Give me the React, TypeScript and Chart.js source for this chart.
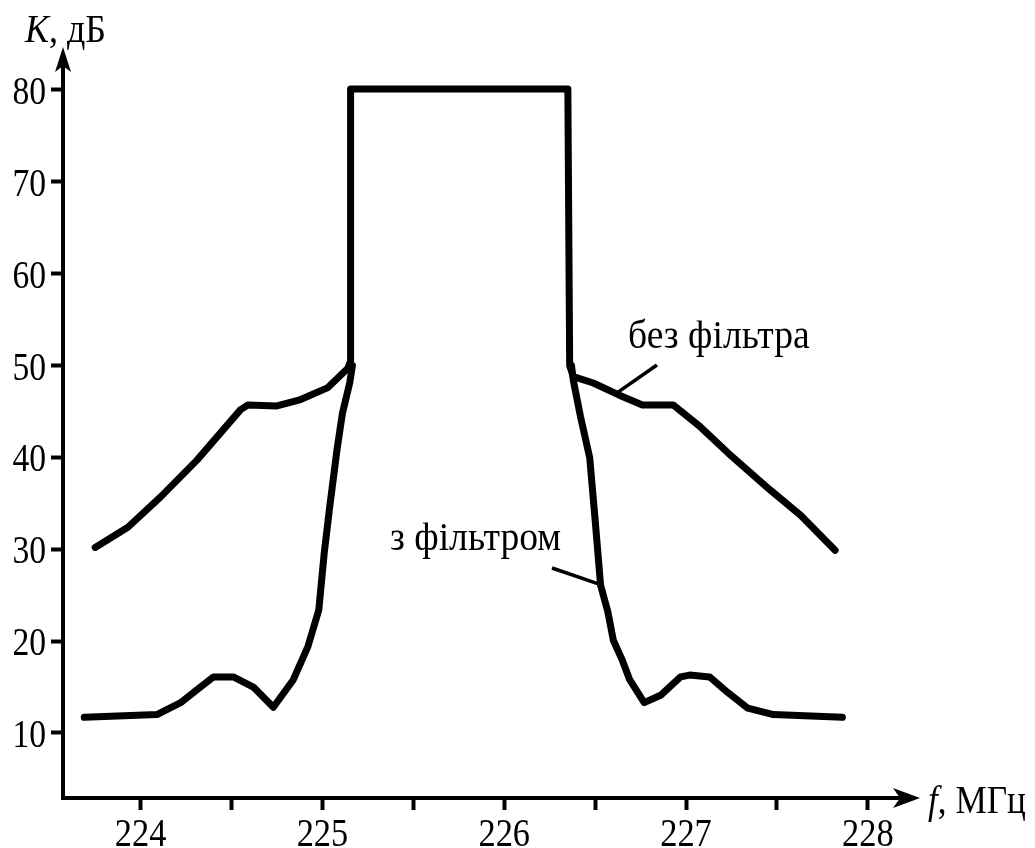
import React, { useEffect, useRef } from 'react';
import { Chart, registerables } from 'chart.js';

Chart.register(...registerables);

// ---- data ----
const freqUpper = [223.75, 223.93, 224.11, 224.31, 224.55, 224.59, 224.75, 224.88, 225.03, 225.14, 225.155, 225.155, 226.35, 226.36, 226.38, 226.49, 226.63, 226.76, 226.93, 227.08, 227.23, 227.46, 227.63, 227.82];
const kUpper = [30.2, 32.4, 35.7, 39.7, 45.2, 45.7, 45.6, 46.3, 47.6, 49.7, 50.5, 80.1, 80.1, 50.0, 48.8, 48.1, 46.8, 45.7, 45.7, 43.3, 40.5, 36.5, 33.7, 29.9];

const freqLowerLeft = [223.69, 224.09, 224.22, 224.31, 224.40, 224.51, 224.62, 224.73, 224.84, 224.92, 224.98, 225.01, 225.04, 225.08, 225.11, 225.15, 225.165];
const kLowerLeft = [11.7, 12.0, 13.3, 14.7, 16.1, 16.1, 15.0, 12.8, 15.8, 19.4, 23.4, 29.6, 34.6, 40.8, 44.8, 48.1, 50.0];

const freqLowerRight = [226.37, 226.38, 226.42, 226.47, 226.50, 226.53, 226.57, 226.60, 226.65, 226.69, 226.77, 226.86, 226.97, 227.02, 227.13, 227.23, 227.34, 227.48, 227.86];
const kLowerRight = [50.0, 48.4, 44.4, 40.0, 33.2, 26.1, 23.2, 20.1, 17.9, 15.8, 13.3, 14.1, 16.1, 16.3, 16.1, 14.4, 12.7, 12.0, 11.7];

const xTickValues = [224, 224.5, 225, 225.5, 226, 226.5, 227, 227.5, 228];
const yTickValues = [10, 20, 30, 40, 50, 60, 70, 80];

const yTitleItalic = 'K';
const yTitleRest = ', дБ';
const xTitleItalic = 'f';
const xTitleRest = ', МГц';
const labelNoFilter = 'без фільтра';
const labelWithFilter = 'з фільтром';

const SERIF = "'Liberation Serif', 'DejaVu Serif', serif";

const toPoints = (xs: number[], ys: number[]) => xs.map((x, i) => ({ x, y: ys[i] }));

// draws text horizontally condensed (the reference's lettering is slightly narrow)
function drawText(ctx: any, text: string, x: number, y: number, size: number, align: string, sx: number, italic = false) {
  ctx.save();
  ctx.font = `${italic ? 'italic ' : ''}${size}px ${SERIF}`;
  ctx.textAlign = align;
  ctx.textBaseline = 'alphabetic';
  ctx.translate(x, y);
  ctx.scale(sx, 1);
  ctx.fillText(text, 0, 0);
  const w = ctx.measureText(text).width * sx;
  ctx.restore();
  return w;
}

const decorPlugin = {
  id: 'decor',
  afterDraw(chart: any) {
    const { ctx, chartArea } = chart;
    const { left, right, top, bottom } = chartArea;
    const xs = chart.scales.x;
    const ys = chart.scales.y;
    ctx.save();
    ctx.strokeStyle = '#000';
    ctx.fillStyle = '#000';
    ctx.lineWidth = 4;
    ctx.lineCap = 'butt';
    // y axis
    ctx.beginPath();
    ctx.moveTo(left, bottom + 2);
    ctx.lineTo(left, top + 14);
    ctx.stroke();
    ctx.beginPath();
    ctx.moveTo(left, top);
    ctx.lineTo(left + 8, top + 25);
    ctx.lineTo(left, top + 19);
    ctx.lineTo(left - 8, top + 25);
    ctx.closePath();
    ctx.fill();
    // x axis
    ctx.beginPath();
    ctx.moveTo(left - 2, bottom);
    ctx.lineTo(right - 14, bottom);
    ctx.stroke();
    ctx.beginPath();
    ctx.moveTo(right, bottom);
    ctx.lineTo(right - 27, bottom - 10);
    ctx.lineTo(right - 20, bottom);
    ctx.lineTo(right - 27, bottom + 10);
    ctx.closePath();
    ctx.fill();

    // tick labels
    yTickValues.forEach((v) => {
      drawText(ctx, String(v), 46, ys.getPixelForValue(v) + 14, 40, 'right', 0.84);
    });
    xTickValues.forEach((v) => {
      if (Number.isInteger(v)) drawText(ctx, String(v), xs.getPixelForValue(v), 846, 40, 'center', 0.86);
    });

    // axis titles
    let w = drawText(ctx, yTitleItalic, 25, 42, 40, 'left', 0.9, true);
    drawText(ctx, yTitleRest, 25 + w, 42, 40, 'left', 0.9);
    w = drawText(ctx, xTitleItalic, 928, 813, 40, 'left', 0.88, true);
    drawText(ctx, xTitleRest, 928 + w, 813, 40, 'left', 0.88);

    // annotations
    drawText(ctx, labelNoFilter, xs.getPixelForValue(226.681), ys.getPixelForValue(51.9), 40, 'left', 0.94);
    drawText(ctx, labelWithFilter, xs.getPixelForValue(225.372), ys.getPixelForValue(29.9), 40, 'left', 0.94);
    ctx.lineWidth = 3.5;
    ctx.beginPath();
    ctx.moveTo(xs.getPixelForValue(226.84), ys.getPixelForValue(50.06));
    ctx.lineTo(xs.getPixelForValue(226.626), ys.getPixelForValue(47.1));
    ctx.stroke();
    ctx.beginPath();
    ctx.moveTo(xs.getPixelForValue(226.263), ys.getPixelForValue(27.96));
    ctx.lineTo(xs.getPixelForValue(226.538), ys.getPixelForValue(26.1));
    ctx.stroke();
    ctx.restore();
  },
};

export default function App() {
  const ref = useRef<HTMLCanvasElement>(null);
  useEffect(() => {
    if (!ref.current) return;
    const lineStyle = {
      borderColor: '#000',
      borderWidth: 7,
      pointRadius: 0,
      tension: 0,
      borderJoinStyle: 'round' as const,
      borderCapStyle: 'round' as const,
      fill: false,
    };
    const chart = new Chart(ref.current, {
      type: 'line',
      data: {
        datasets: [
          { ...lineStyle, label: labelNoFilter, data: toPoints(freqUpper, kUpper) },
          { ...lineStyle, label: labelWithFilter, data: toPoints(freqLowerLeft, kLowerLeft) },
          { ...lineStyle, label: labelWithFilter + ' 2', data: toPoints(freqLowerRight, kLowerRight) },
        ],
      },
      options: {
        responsive: false,
        animation: false,
        devicePixelRatio: 1,
        layout: { padding: { left: 0, top: 47, right: 115, bottom: 0 } },
        plugins: { legend: { display: false }, tooltip: { enabled: false } },
        scales: {
          x: {
            type: 'linear',
            min: 223.573,
            max: 228.287,
            afterBuildTicks: (s: any) => {
              s.ticks = xTickValues.map((v) => ({ value: v }));
            },
            afterFit: (s: any) => {
              s.height = 50;
            },
            border: { display: false },
            grid: { drawOnChartArea: false, drawTicks: true, tickLength: 12, tickWidth: 4, tickColor: '#000' },
            ticks: { display: false },
          },
          y: {
            type: 'linear',
            min: 2.92,
            max: 84.68,
            afterBuildTicks: (s: any) => {
              s.ticks = yTickValues.map((v) => ({ value: v }));
            },
            afterFit: (s: any) => {
              s.width = 63;
            },
            border: { display: false },
            grid: { drawOnChartArea: false, drawTicks: true, tickLength: 12, tickWidth: 4, tickColor: '#000' },
            ticks: { display: false },
          },
        },
      },
      plugins: [decorPlugin],
    });
    return () => chart.destroy();
  }, []);
  return (
    <div style={{ position: 'fixed', left: 0, top: 0, width: 1035, height: 848, background: '#fff' }}>
      <canvas ref={ref} width={1035} height={848} style={{ display: 'block' }} />
    </div>
  );
}
